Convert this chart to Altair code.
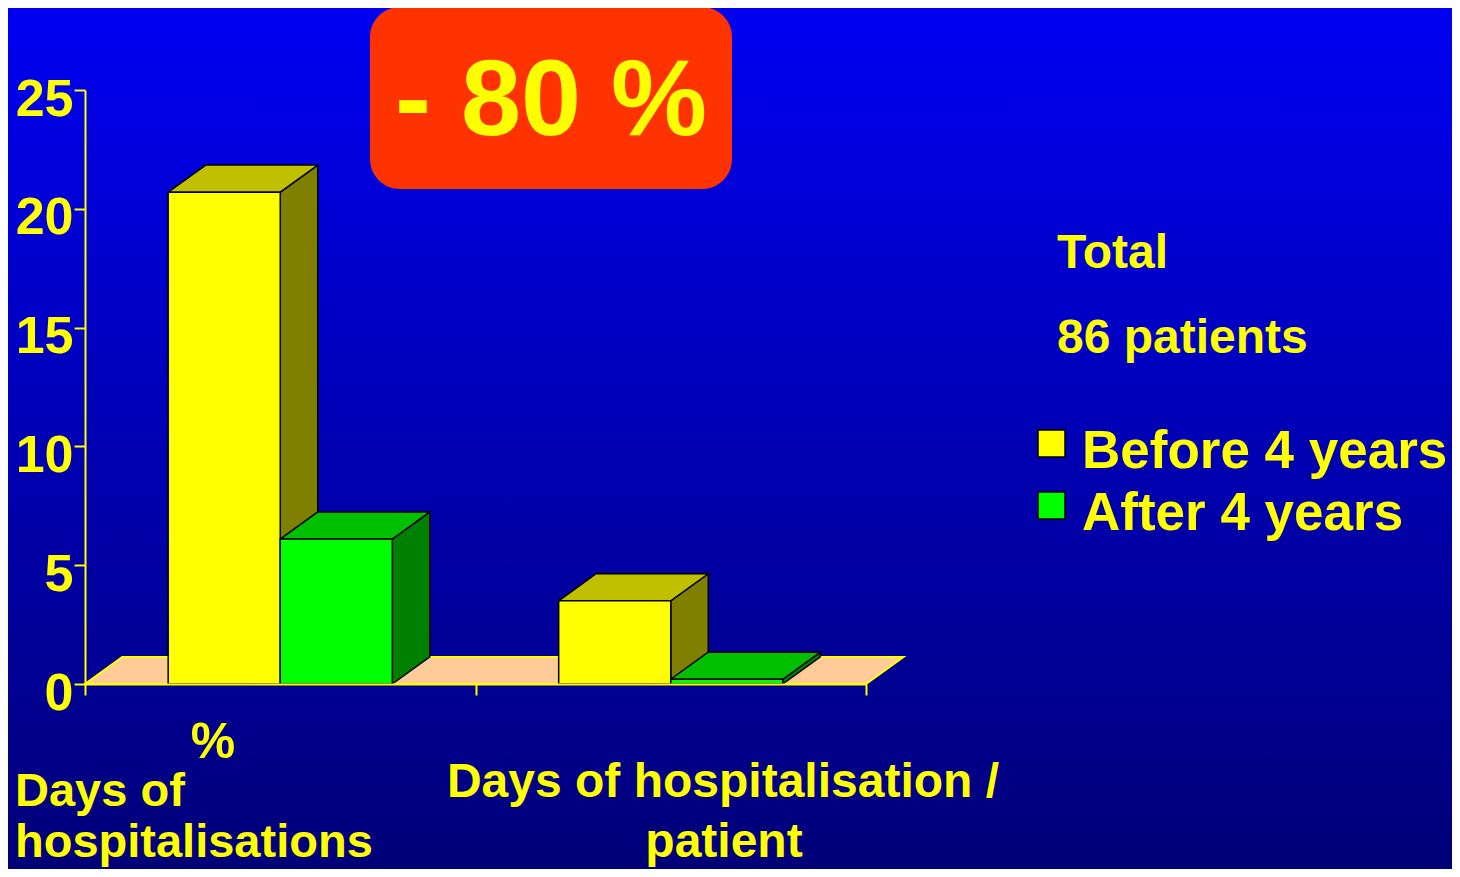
import altair as alt
import pandas as pd

# ---------------- data ----------------
categories = ["% Days of hospitalisations", "Days of hospitalisation / patient"]
cat_label_lines = [["%", "Days of", "hospitalisations"], ["Days of hospitalisation /", "patient"]]
series = ["Before 4 years", "After 4 years"]
before_4_years = [20.7, 3.5]
after_4_years = [6.1, 0.2]
y_ticks = [0, 5, 10, 15, 20, 25]
reduction_label = "- 80 %"
total_lines = ["Total", "86 patients"]

# ---------------- styles ----------------
FONT = "Liberation Sans"
YELLOW = "#FFFF00"
front_colors = ["#FFFF00", "#00FF00"]
top_colors = ["#C0C000", "#00C000"]
side_colors = ["#808000", "#008000"]

W, H = 781, 594
PAD = {"left": 77, "top": 82, "right": 586, "bottom": 185}
TOTAL_W, TOTAL_H = 1444, 861

BAR_W = 0.287   # bar width in x units (one group = 1 unit)
DX = 0.096      # 3-D depth, x units
DY = 1.14       # 3-D depth, y units

xs = alt.Scale(domain=[0, 2], nice=False, zero=False)
ys = alt.Scale(domain=[0, 25], nice=False)
x_axis = alt.Axis(values=[0, 1, 2], labels=False, title=None, grid=False,
                  tickSize=11, tickColor=YELLOW, tickWidth=2,
                  domainColor=YELLOW, domainWidth=2, zindex=1)
y_axis = alt.Axis(values=y_ticks, title=None, grid=False,
                  tickSize=11, tickColor=YELLOW, tickWidth=2,
                  domainColor=YELLOW, domainWidth=2,
                  labelColor=YELLOW, labelFont=FONT, labelFontSize=52,
                  labelFontWeight="bold", labelPadding=1, labelOffset=9,
                  zindex=1)


def X(f):
    return alt.X(f, type="quantitative", scale=xs, axis=x_axis, stack=False)


def Y(f):
    return alt.Y(f, type="quantitative", scale=ys, axis=y_axis, stack=False)


# ---------------- geometry tables ----------------
front, side, top = [], [], []
for i, cat in enumerate(categories):
    for j, vals in enumerate([before_4_years, after_4_years]):
        v = vals[i]
        bar = f"{i}-{j}"
        x0 = i + 0.5 - BAR_W + j * BAR_W
        x1 = x0 + BAR_W
        front.append({"bar": bar, "x0": x0, "x1": x1, "v": v, "base": 0.0,
                      "shade": front_colors[j]})
        side.append({"bar": bar, "xx": x1, "lo": 0.0, "hi": v, "shade": side_colors[j]})
        side.append({"bar": bar, "xx": x1 + DX, "lo": DY, "hi": v + DY, "shade": side_colors[j]})
        top.append({"bar": bar, "yy": v, "xa": x0, "xb": x1, "shade": top_colors[j]})
        top.append({"bar": bar, "yy": v + DY, "xa": x0 + DX, "xb": x1 + DX, "shade": top_colors[j]})

front_df = pd.DataFrame(front)
side_df = pd.DataFrame(side)
top_df = pd.DataFrame(top)
floor_df = pd.DataFrame({"yy": [0.0, DY], "xa": [0.0, DX],
                         "xb": [float(len(categories)), len(categories) + DX]})
one = pd.DataFrame({"a": [0]})

# ---------------- layers ----------------
background = alt.Chart(one).mark_rect(
    fill=alt.Gradient(
        gradient="linear",
        stops=[alt.GradientStop(color="#0000F2", offset=0),
               alt.GradientStop(color="#0000B4", offset=0.5),
               alt.GradientStop(color="#000078", offset=1)],
        x1=0, x2=0, y1=0, y2=1)
).encode(x=alt.value(-PAD["left"]), x2=alt.value(TOTAL_W - PAD["left"]),
         y=alt.value(-PAD["top"]), y2=alt.value(TOTAL_H - PAD["top"]))

floor = alt.Chart(floor_df).mark_area(
    orient="horizontal", fill="#FFCC99", stroke=YELLOW, strokeWidth=2
).encode(y=Y("yy"), x=X("xa"), x2="xb")

sides = alt.Chart(side_df).mark_area(
    orient="vertical", stroke="black", strokeWidth=1.5
).encode(x=X("xx"), y=Y("lo"), y2="hi", detail="bar:N",
         fill=alt.Fill("shade:N", scale=None))

tops = alt.Chart(top_df).mark_area(
    orient="horizontal", stroke="black", strokeWidth=1.5
).encode(y=Y("yy"), x=X("xa"), x2="xb", detail="bar:N",
         fill=alt.Fill("shade:N", scale=None))

fronts = alt.Chart(front_df).mark_rect(stroke="black", strokeWidth=1.5).encode(
    x=X("x0"), x2="x1", y=Y("v"), y2="base",
    fill=alt.Fill("shade:N", scale=None))

red_box = alt.Chart(one).mark_rect(cornerRadius=30, color="#FF3300").encode(
    x=alt.value(285), x2=alt.value(647), y=alt.value(-83), y2=alt.value(99))


def txt(s, x, y, size, align="left"):
    return alt.Chart(one).mark_text(
        text=s, align=align, baseline="alphabetic", font=FONT,
        fontSize=size, fontWeight="bold", color=YELLOW
    ).encode(x=alt.value(x), y=alt.value(y))


texts = [txt(reduction_label, 466, 45, 108, "center")]
# category labels
texts.append(txt(cat_label_lines[0][0], 128, 668, 50, "center"))
texts.append(txt(cat_label_lines[0][1], -70, 716, 47))
texts.append(txt(cat_label_lines[0][2], -70, 767, 47))
texts.append(txt(cat_label_lines[1][0], 638, 707, 48, "center"))
texts.append(txt(cat_label_lines[1][1], 639, 767, 48, "center"))
# total
texts.append(txt(total_lines[0], 972, 178, 48))
texts.append(txt(total_lines[1], 972, 263, 48))

legend = []
for k, s in enumerate(series):
    y0 = 340 + 62 * k
    legend.append(alt.Chart(one).mark_rect(
        fill=front_colors[k], stroke="black", strokeWidth=1.5
    ).encode(x=alt.value(953), x2=alt.value(980), y=alt.value(y0), y2=alt.value(y0 + 27)))
    legend.append(txt(s, 997, 378 + 62 * k, 53))

chart = alt.layer(
    background, floor, sides, tops, fronts, red_box, *texts, *legend
).properties(
    width=W, height=H, padding=PAD,
    autosize=alt.AutoSizeParams(type="none"),
    background="#0000B4",
).configure_view(stroke=None)

chart.save("out.html", embed_options={"renderer": "svg", "actions": False})
